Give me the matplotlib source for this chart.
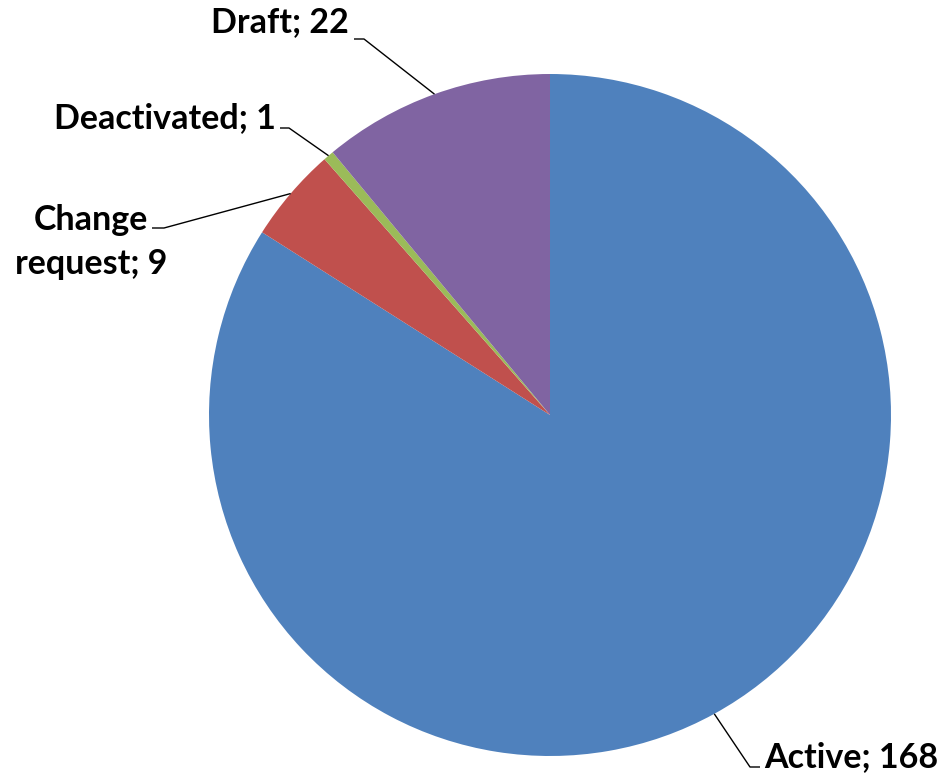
import matplotlib.pyplot as plt
import numpy as np

labels = ['Active', 'Change request', 'Deactivated', 'Draft']
values = [168, 9, 1, 22]
colors = ['#4F81BD', '#C0504D', '#9BBB59', '#8064A2']

W, H = 945, 773
fig = plt.figure(figsize=(W / 100, H / 100), dpi=100)
ax = fig.add_axes([0, 0, 1, 1])

cx, cy, r = 550, H - 415, 341
wedges, _ = ax.pie(values, colors=colors, startangle=90, counterclock=False,
                   center=(cx, cy), radius=r, wedgeprops=dict(linewidth=0))
ax.set_xlim(0, W)
ax.set_ylim(0, H)
ax.set_aspect('equal')
ax.axis('off')

# label layout in pixel coords (y from top): elbow, line end, text pos, align
layout = {
    'Draft': ((364, 39), (354, 39), (349, 22), 'right'),
    'Deactivated': ((289, 128), (280, 128), (276, 118), 'right'),
    'Change request': ((164, 228), (152, 228), (91, 242), 'center'),
    'Active': ((750, 767), (760, 767), (764, 757), 'left'),
}

for w, lab, v in zip(wedges, labels, values):
    mid = np.deg2rad((w.theta1 + w.theta2) / 2)
    ex, ey = cx + r * np.cos(mid), cy + r * np.sin(mid)
    (bx, by), (hx, hy), (tx, ty), ha = layout[lab]
    ax.plot([ex, bx, hx], [ey, H - by, H - hy], color='black', lw=1.0,
            solid_capstyle='butt')
    txt = f'{lab}; {v}'
    if lab == 'Change request':
        txt = f'Change\nrequest; {v}'
    ax.text(tx, H - ty, txt, ha=ha, va='center', fontsize=24.5,
            fontweight='bold', family='Lato', multialignment='center',
            linespacing=1.45)

fig.savefig('out.png', dpi=100)
